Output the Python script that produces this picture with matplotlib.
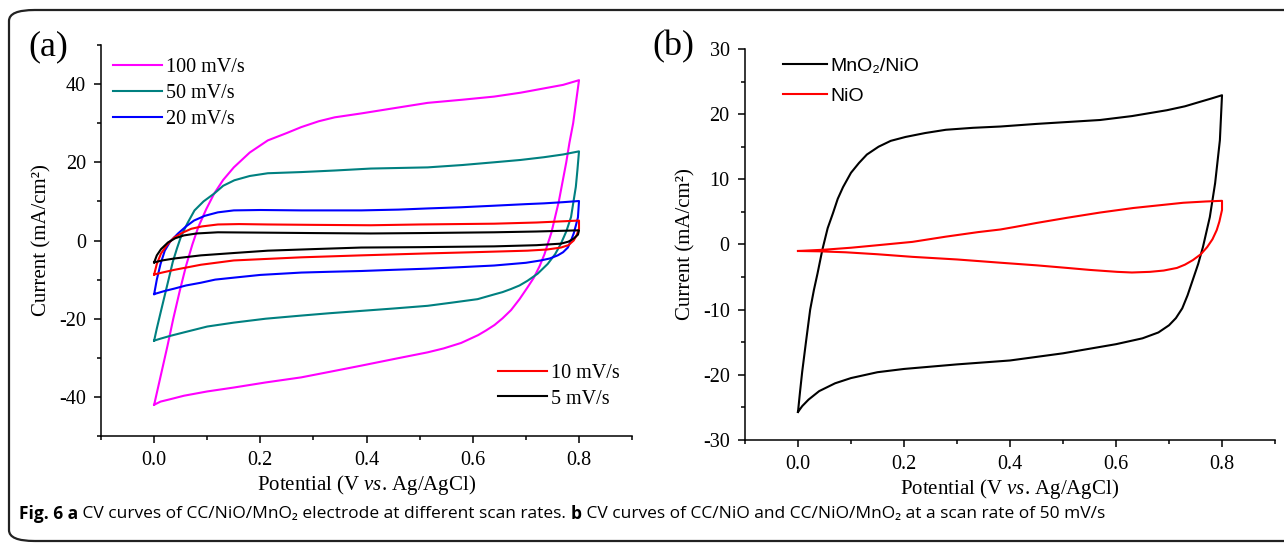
import matplotlib
matplotlib.use("Agg")
import matplotlib.pyplot as plt
from matplotlib.patches import FancyBboxPatch
from matplotlib.ticker import MultipleLocator

# ---- panel (a): CV at several scan rates, forward / reverse sweeps ----
v100_fwd = [0.0, 0.005, 0.015, 0.025, 0.036, 0.048, 0.06, 0.072, 0.083, 0.098, 0.113, 0.13, 0.15, 0.18,
            0.214, 0.25, 0.277, 0.31, 0.34, 0.39, 0.45, 0.515, 0.58, 0.64, 0.69, 0.734, 0.77, 0.8]
i100_fwd = [-42, -39, -33, -27, -20, -13, -6.5, -1, 3.4, 8, 12, 15.5, 18.7, 22.5,
            25.6, 27.5, 29, 30.5, 31.5, 32.5, 33.8, 35.2, 36, 36.8, 37.8, 38.9, 39.8, 41]
v100_rev = [0.8, 0.794, 0.789, 0.782, 0.776, 0.769, 0.762, 0.755, 0.748, 0.742, 0.735, 0.726, 0.715, 0.703,
            0.688, 0.672, 0.656, 0.641, 0.625, 0.61, 0.578, 0.545, 0.515, 0.452, 0.39, 0.33, 0.277, 0.21,
            0.15, 0.1, 0.056, 0.03, 0.012, 0.0]
i100_rev = [41, 35, 30, 25, 20, 15, 10, 6, 2, -0.5, -3.5, -6.5, -9.5, -12,
            -15, -17.8, -19.9, -21.6, -23, -24.2, -26.2, -27.6, -28.6, -30.3, -32, -33.6, -35, -36.3,
            -37.6, -38.6, -39.7, -40.6, -41.2, -42]

v50_fwd = [0.0, 0.005, 0.012, 0.02, 0.028, 0.035, 0.043, 0.051, 0.063, 0.076, 0.093, 0.113, 0.13, 0.151,
           0.18, 0.214, 0.277, 0.34, 0.408, 0.515, 0.58, 0.64, 0.69, 0.734, 0.77, 0.8]
i50_fwd = [-25.6, -22.5, -18.5, -14, -9.5, -5.5, -2, 1.2, 4.5, 7.7, 10, 12, 14, 15.4,
           16.5, 17.2, 17.5, 17.9, 18.4, 18.7, 19.3, 20, 20.6, 21.3, 22, 22.8]
v50_rev = [0.8, 0.797, 0.794, 0.79, 0.785, 0.776, 0.766, 0.755, 0.741, 0.722, 0.703, 0.688, 0.672, 0.656,
           0.64, 0.609, 0.56, 0.515, 0.45, 0.39, 0.33, 0.277, 0.21, 0.15, 0.1, 0.056, 0.03, 0.012, 0.0]
i50_rev = [22.8, 18, 13.7, 10.3, 6, 2.3, -0.8, -3.5, -6, -8.5, -10.3, -11.5, -12.4, -13.2,
           -13.8, -15, -15.9, -16.7, -17.4, -18, -18.6, -19.2, -20, -21, -22, -23.5, -24.4, -25.1, -25.6]

v20_fwd = [0.0, 0.005, 0.012, 0.02, 0.03, 0.045, 0.06, 0.075, 0.095, 0.12, 0.15, 0.2, 0.277, 0.39,
           0.46, 0.515, 0.578, 0.64, 0.7, 0.734, 0.77, 0.8]
i20_fwd = [-13.7, -10, -6, -2.6, -0.3, 1.8, 3.6, 5.1, 6.3, 7.2, 7.7, 7.8, 7.7, 7.7,
           7.9, 8.2, 8.5, 8.9, 9.3, 9.5, 9.8, 10.1]
v20_rev = [0.8, 0.799, 0.798, 0.794, 0.79, 0.785, 0.779, 0.77, 0.76, 0.745, 0.728, 0.7, 0.64, 0.58,
           0.515, 0.45, 0.39, 0.33, 0.277, 0.2, 0.15, 0.115, 0.088, 0.06, 0.038, 0.02, 0.0]
i20_rev = [10.1, 8, 5.9, 3.8, 1.8, 0, -1.8, -3, -3.8, -4.6, -5.1, -5.7, -6.4, -6.8,
           -7.2, -7.5, -7.8, -8, -8.2, -8.8, -9.5, -10, -10.8, -11.5, -12.3, -12.9, -13.7]

v10_fwd = [0.0, 0.005, 0.013, 0.025, 0.038, 0.055, 0.07, 0.09, 0.12, 0.16, 0.214, 0.3, 0.408, 0.5,
           0.64, 0.72, 0.8]
i10_fwd = [-8.7, -6, -3.3, -1, 0.8, 2.1, 3, 3.6, 4.1, 4.2, 4.1, 4, 3.9, 4.1,
           4.3, 4.6, 5.1]
v10_rev = [0.8, 0.8, 0.795, 0.79, 0.78, 0.766, 0.74, 0.703, 0.6, 0.515, 0.39, 0.277, 0.15, 0.088,
           0.038, 0.015, 0.0]
i10_rev = [5.1, 3, 1.2, 0, -1.2, -1.8, -2.3, -2.6, -3, -3.3, -3.8, -4.3, -5.1, -6.2,
           -7.5, -8.2, -8.7]

v5_fwd = [0.0, 0.005, 0.013, 0.026, 0.04, 0.056, 0.08, 0.12, 0.214, 0.3, 0.408, 0.5, 0.64, 0.72, 0.8]
i5_fwd = [-5.6, -3.8, -2.2, -0.5, 0.6, 1.3, 1.8, 2.1, 2.0, 1.9, 1.8, 1.9, 2.1, 2.3, 2.6]
v5_rev = [0.8, 0.798, 0.79, 0.78, 0.766, 0.72, 0.64, 0.5, 0.39, 0.3, 0.214, 0.15, 0.088, 0.038, 0.015, 0.0]
i5_rev = [2.6, 1.5, 0.5, -0.3, -0.8, -1.2, -1.5, -1.7, -1.8, -2.2, -2.6, -3.2, -3.8, -4.6, -5.1, -5.6]

# ---- panel (b): MnO2/NiO vs NiO at 50 mV/s ----
vmn_fwd = [0.0, 0.004, 0.008, 0.015, 0.023, 0.03, 0.037, 0.046, 0.056, 0.066, 0.075, 0.085, 0.1, 0.115,
           0.13, 0.152, 0.175, 0.203, 0.24, 0.279, 0.33, 0.382, 0.45, 0.51, 0.57, 0.63, 0.696, 0.73,
           0.759, 0.78, 0.8]
imn_fwd = [-25.7, -22.5, -19.5, -15, -10, -7, -4.4, -0.8, 2.5, 4.8, 7, 8.8, 11, 12.5,
           13.8, 15, 15.9, 16.5, 17.1, 17.6, 17.9, 18.1, 18.5, 18.8, 19.1, 19.7, 20.6, 21.2,
           21.9, 22.4, 22.9]
vmn_rev = [0.8, 0.796, 0.787, 0.777, 0.764, 0.755, 0.745, 0.735, 0.725, 0.713, 0.7, 0.68, 0.65, 0.6,
           0.55, 0.5, 0.4, 0.3, 0.2, 0.15, 0.1, 0.07, 0.04, 0.02, 0.008, 0.0]
imn_rev = [22.9, 16, 9.4, 4.2, -0.4, -3, -5.4, -7.8, -9.8, -11.3, -12.4, -13.5, -14.4, -15.3,
           -16, -16.7, -17.8, -18.4, -19.1, -19.6, -20.5, -21.3, -22.5, -23.8, -24.8, -25.7]

vni_fwd = [0.0, 0.05, 0.1, 0.152, 0.216, 0.279, 0.34, 0.382, 0.41, 0.45, 0.508, 0.57, 0.633, 0.68,
           0.727, 0.77, 0.8]
ini_fwd = [-1.0, -0.8, -0.5, -0.1, 0.4, 1.2, 1.9, 2.3, 2.7, 3.3, 4.1, 4.9, 5.6, 6.0,
           6.4, 6.6, 6.7]
vni_rev = [0.8, 0.8, 0.795, 0.79, 0.782, 0.772, 0.76, 0.745, 0.73, 0.715, 0.69, 0.664, 0.63, 0.602,
           0.55, 0.508, 0.45, 0.382, 0.3, 0.216, 0.15, 0.09, 0.04, 0.0]
ini_rev = [6.7, 5.3, 3.5, 2.2, 0.8, -0.4, -1.5, -2.4, -3.1, -3.6, -4.0, -4.2, -4.3, -4.2,
           -3.9, -3.6, -3.2, -2.8, -2.3, -1.9, -1.5, -1.2, -1.05, -1.0]

labels_a = ["100 mV/s", "50 mV/s", "20 mV/s", "10 mV/s", "5 mV/s"]
colors_a = ["#FF00FF", "#008080", "#0000FF", "#FF0000", "#000000"]
curves_a = [(v100_fwd, i100_fwd, v100_rev, i100_rev),
            (v50_fwd, i50_fwd, v50_rev, i50_rev),
            (v20_fwd, i20_fwd, v20_rev, i20_rev),
            (v10_fwd, i10_fwd, v10_rev, i10_rev),
            (v5_fwd, i5_fwd, v5_rev, i5_rev)]

plt.rcParams["font.family"] = ["Liberation Serif", "DejaVu Serif"]
plt.rcParams["mathtext.fontset"] = "custom"
plt.rcParams["mathtext.rm"] = "Liberation Serif"
plt.rcParams["mathtext.it"] = "Liberation Serif:italic"
plt.rcParams["axes.unicode_minus"] = False

XLABEL = r"Potential (V $\mathit{vs}$. Ag/AgCl)"
YLABEL = "Current (mA/cm²)"
LW = 1.5


def style_axes(ax, ylim, ymaj, ymin):
    ax.set_xlim(-0.1, 0.9)
    ax.set_ylim(*ylim)
    ax.spines["top"].set_visible(False)
    ax.spines["right"].set_visible(False)
    for s in ("left", "bottom"):
        ax.spines[s].set_linewidth(1.1)
    ax.xaxis.set_minor_locator(MultipleLocator(0.1))
    ax.yaxis.set_major_locator(MultipleLocator(ymaj))
    ax.yaxis.set_minor_locator(MultipleLocator(ymin))
    ax.set_xticks([0.0, 0.2, 0.4, 0.6, 0.8])
    ax.xaxis.set_major_formatter(plt.FuncFormatter(lambda v, p: f"{v:.1f}"))
    ax.tick_params(which="major", direction="out", length=5, width=1.1, labelsize=14.5, pad=6)
    ax.tick_params(which="minor", direction="out", length=3, width=1.1)
    ax.set_xlabel(XLABEL, fontsize=15, labelpad=2)
    ax.set_ylabel(YLABEL, fontsize=15, labelpad=5)


fig = plt.figure(figsize=(12.84, 5.44), dpi=100)

# panel (a)
ax1 = fig.add_axes([0.0787, 0.1985, 0.4136, 0.7188])
lines_a = []
for (vf, i_f, vr, ir), c, lab in zip(curves_a, colors_a, labels_a):
    ln, = ax1.plot(vf + vr, i_f + ir, color=c, lw=LW, label=lab)
    lines_a.append(ln)
style_axes(ax1, (-50, 50), 20, 10)

leg_kw = dict(frameon=False, fontsize=14.5, handlelength=2.45, handletextpad=0.2,
              labelspacing=0.33, borderpad=0, borderaxespad=0, loc="upper left")
leg1 = ax1.legend(lines_a[:3], labels_a[:3], bbox_to_anchor=(0.022, 0.966), **leg_kw)
ax1.add_artist(leg1)
ax1.legend(lines_a[3:], labels_a[3:], bbox_to_anchor=(0.747, 0.185), **leg_kw)

# panel (b)
ax2 = fig.add_axes([0.5802, 0.1912, 0.4128, 0.7188])
l_mn, = ax2.plot(vmn_fwd + vmn_rev, imn_fwd + imn_rev, color="#000000", lw=LW)
l_ni, = ax2.plot(vni_fwd + vni_rev, ini_fwd + ini_rev, color="#FF0000", lw=LW)
style_axes(ax2, (-30, 30), 10, 5)
ax2.legend([l_mn, l_ni], ["MnO₂/NiO", "NiO"], frameon=False, handlelength=2.3,
           handletextpad=0.15, labelspacing=0.62, borderpad=0, borderaxespad=0,
           loc="upper left", bbox_to_anchor=(0.071, 0.978),
           prop=dict(family=["Liberation Sans", "DejaVu Sans"], size=14))

fig.text(28 / 1284, 1 - 47 / 544, "(a)", fontsize=26, va="center", ha="left")
fig.text(652 / 1284, 1 - 47 / 544, "(b)", fontsize=26, va="center", ha="left")

# outer rounded frame, right edge runs off the picture
frame = FancyBboxPatch((9 / 1284, 3 / 544), 1.5, 1 - 13 / 544, transform=fig.transFigure,
                       boxstyle="round,pad=0,rounding_size=0.02", fill=False,
                       lw=1.6, ec="#222222", clip_on=False)
fig.patches.append(frame)

# caption with mixed bold / regular pieces
cap_font = ["Open Sans", "DejaVu Sans"]
pieces = [("Fig. 6 a", "bold"), (" CV curves of CC/NiO/MnO₂ electrode at different scan rates. ", "normal"),
          ("b", "bold"), (" CV curves of CC/NiO and CC/NiO/MnO₂ at a scan rate of 50 mV/s", "normal")]
renderer = fig.canvas.get_renderer()
x = 19 / 1284
for txt, w in pieces:
    t = fig.text(x, 1 - 514 / 544, txt, fontsize=12.5, fontweight=w, family=cap_font,
                 va="center", ha="left")
    bb = t.get_window_extent(renderer=renderer)
    x = bb.x1 / fig.bbox.width

fig.savefig("out.png", dpi=100)
